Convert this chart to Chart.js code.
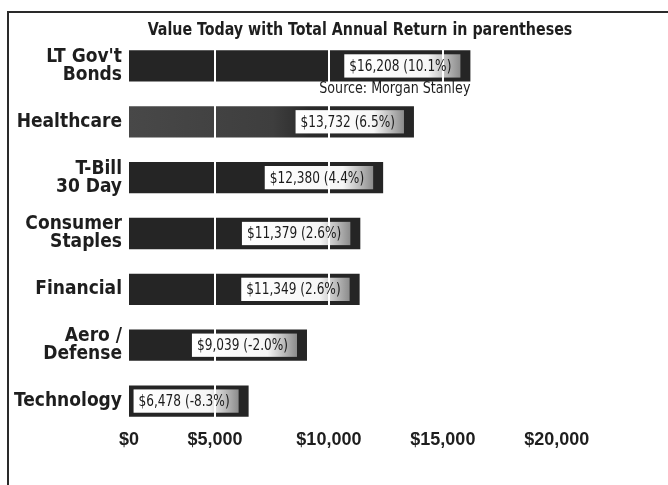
<!DOCTYPE html>
<html>
<head>
<meta charset="utf-8">
<script src="https://cdn.jsdelivr.net/npm/chart.js@4/dist/chart.umd.min.js"></script>
<style>
  html, body { margin: 0; padding: 0; background: #fff; }
  #wrap { position: relative; width: 668px; height: 485px; }
  canvas { display: block; }
</style>
</head>
<body>
<div id="wrap"><canvas id="c" width="668" height="485"></canvas></div>
<script>
// Growth of $10,000 by sector, with total annual return
const categories = [
  ["LT Gov't", "Bonds"],
  "Healthcare",
  ["T-Bill", "30 Day"],
  ["Consumer", "Staples"],
  "Financial",
  ["Aero /", "Defense"],
  "Technology"
];
const valueToday = [16208, 13732, 12380, 11379, 11349, 9039, 6478];
const annualReturn = [10.1, 6.5, 4.4, 2.6, 2.6, -2.0, -8.3];
const xTicks = [5000, 10000, 15000, 20000];

const titleText = 'Value Today with Total Annual Return in parentheses';
const sourceText = 'Source: Morgan Stanley';

const NARROW = "'Liberation Sans Narrow', 'DejaVu Sans Condensed', 'Roboto Condensed', Arial, sans-serif";
const WIDE = "'Liberation Sans', Arial, sans-serif";

const X_MIN = 1230;   // left edge of the value axis
const X_MAX = 24000;

function money(v) {
  return '$' + v.toLocaleString('en-US');
}

function valueLabel(i) {
  return money(valueToday[i]) + ' (' + annualReturn[i].toFixed(1) + '%)';
}

// horizontally condensed text
function condensedText(ctx, txt, x, y, sx) {
  ctx.save();
  ctx.translate(x, y);
  ctx.scale(sx, 1);
  ctx.fillText(txt, 0, 0);
  ctx.restore();
}

// geometry of the value box inside a bar
function boxFor(ctx, bar, i) {
  const tw = ctx.measureText(valueLabel(i)).width * 0.9;
  const h = bar.height - 8;
  const right = bar.x - 10;
  const left = Math.max(bar.base + 1, right - (tw + 14));
  return { left, right, top: bar.y - h / 2, h };
}

// frame, title, value boxes and source note
const decor = {
  id: 'decor',
  beforeDraw(chart) {
    const ctx = chart.ctx;
    ctx.save();
    ctx.fillStyle = '#ffffff';
    ctx.fillRect(0, 0, chart.width, chart.height);
    ctx.strokeStyle = '#2a2a2a';
    ctx.lineWidth = 2;
    ctx.beginPath();
    ctx.moveTo(8, chart.height);
    ctx.lineTo(8, 12);
    ctx.lineTo(chart.width, 12);
    ctx.stroke();
    ctx.fillStyle = '#1e1e1e';
    ctx.font = 'bold 18px ' + NARROW;
    ctx.textAlign = 'center';
    ctx.textBaseline = 'middle';
    condensedText(ctx, titleText, 360, 30, 0.88);
    ctx.restore();
  },
  afterDatasetsDraw(chart) {
    const ctx = chart.ctx;
    ctx.save();
    ctx.font = '15px ' + NARROW;
    chart.getDatasetMeta(0).data.forEach((bar, i) => {
      const b = boxFor(ctx, bar, i);
      const g = ctx.createLinearGradient(b.left, 0, b.right, 0);
      g.addColorStop(0, '#ffffff');
      g.addColorStop(0.72, '#f6f6f6');
      g.addColorStop(1, '#8c8c8c');
      ctx.fillStyle = g;
      ctx.fillRect(b.left, b.top, b.right - b.left, b.h);
    });
    ctx.restore();
  },
  afterDraw(chart) {
    const ctx = chart.ctx;
    const bars = chart.getDatasetMeta(0).data;
    ctx.save();
    ctx.font = '15px ' + NARROW;
    ctx.textBaseline = 'middle';
    ctx.fillStyle = '#1a1a1a';
    ctx.textAlign = 'left';
    bars.forEach((bar, i) => {
      const b = boxFor(ctx, bar, i);
      condensedText(ctx, valueLabel(i), b.left + 5, bar.y + 1, 0.9);
    });
    // source note under the first bar
    const first = bars[0];
    ctx.textAlign = 'right';
    ctx.fillStyle = '#1e1e1e';
    condensedText(ctx, sourceText, first.x, first.y + first.height / 2 + 8, 0.94);
    ctx.restore();
  }
};

function barFill(ctx) {
  const i = ctx.dataIndex;
  const area = ctx.chart.chartArea;
  if (!area) return '#252525';
  if (i === 1) {
    const g = ctx.chart.ctx.createLinearGradient(area.left, 0, area.left + 360, 0);
    g.addColorStop(0, '#484848');
    g.addColorStop(0.4, '#3e3e3e');
    g.addColorStop(0.5, '#2a2a2a');
    g.addColorStop(1, '#232323');
    return g;
  }
  return '#252525';
}

new Chart(document.getElementById('c'), {
  type: 'bar',
  data: {
    labels: categories,
    datasets: [{
      data: valueToday,
      backgroundColor: barFill,
      borderWidth: 0,
      barPercentage: 1,
      categoryPercentage: 0.56
    }]
  },
  options: {
    indexAxis: 'y',
    responsive: false,
    animation: false,
    layout: { padding: { top: 38, right: 20, bottom: 34, left: 0 } },
    plugins: { legend: { display: false }, tooltip: { enabled: false }, title: { display: false } },
    scales: {
      x: {
        type: 'linear',
        min: X_MIN,
        max: X_MAX,
        afterFit(scale) { scale.height = 22; },
        afterBuildTicks(scale) {
          scale.ticks = [{ value: X_MIN }].concat(xTicks.map(v => ({ value: v })), [{ value: X_MAX }]);
        },
        border: { display: false },
        grid: {
          z: 1,
          drawTicks: false,
          lineWidth: 2,
          color(ctx) {
            const v = ctx.tick && ctx.tick.value;
            return (v === X_MIN || v === X_MAX) ? 'rgba(0,0,0,0)' : '#ffffff';
          }
        },
        ticks: {
          autoSkip: false,
          maxRotation: 0,
          padding: 0,
          color: '#1e1e1e',
          font: { family: WIDE, size: 18, weight: 'bold' },
          callback(v) {
            if (v === X_MIN) return '$0';
            if (v === X_MAX) return '';
            return money(v);
          }
        }
      },
      y: {
        afterFit(scale) { scale.width = 129; },
        border: { display: false },
        grid: { display: false, drawTicks: false },
        ticks: {
          padding: 7,
          color: '#1e1e1e',
          font: { family: NARROW, size: 19, weight: 'bold', lineHeight: 0.95 }
        }
      }
    }
  },
  plugins: [decor]
});
</script>
</body>
</html>
